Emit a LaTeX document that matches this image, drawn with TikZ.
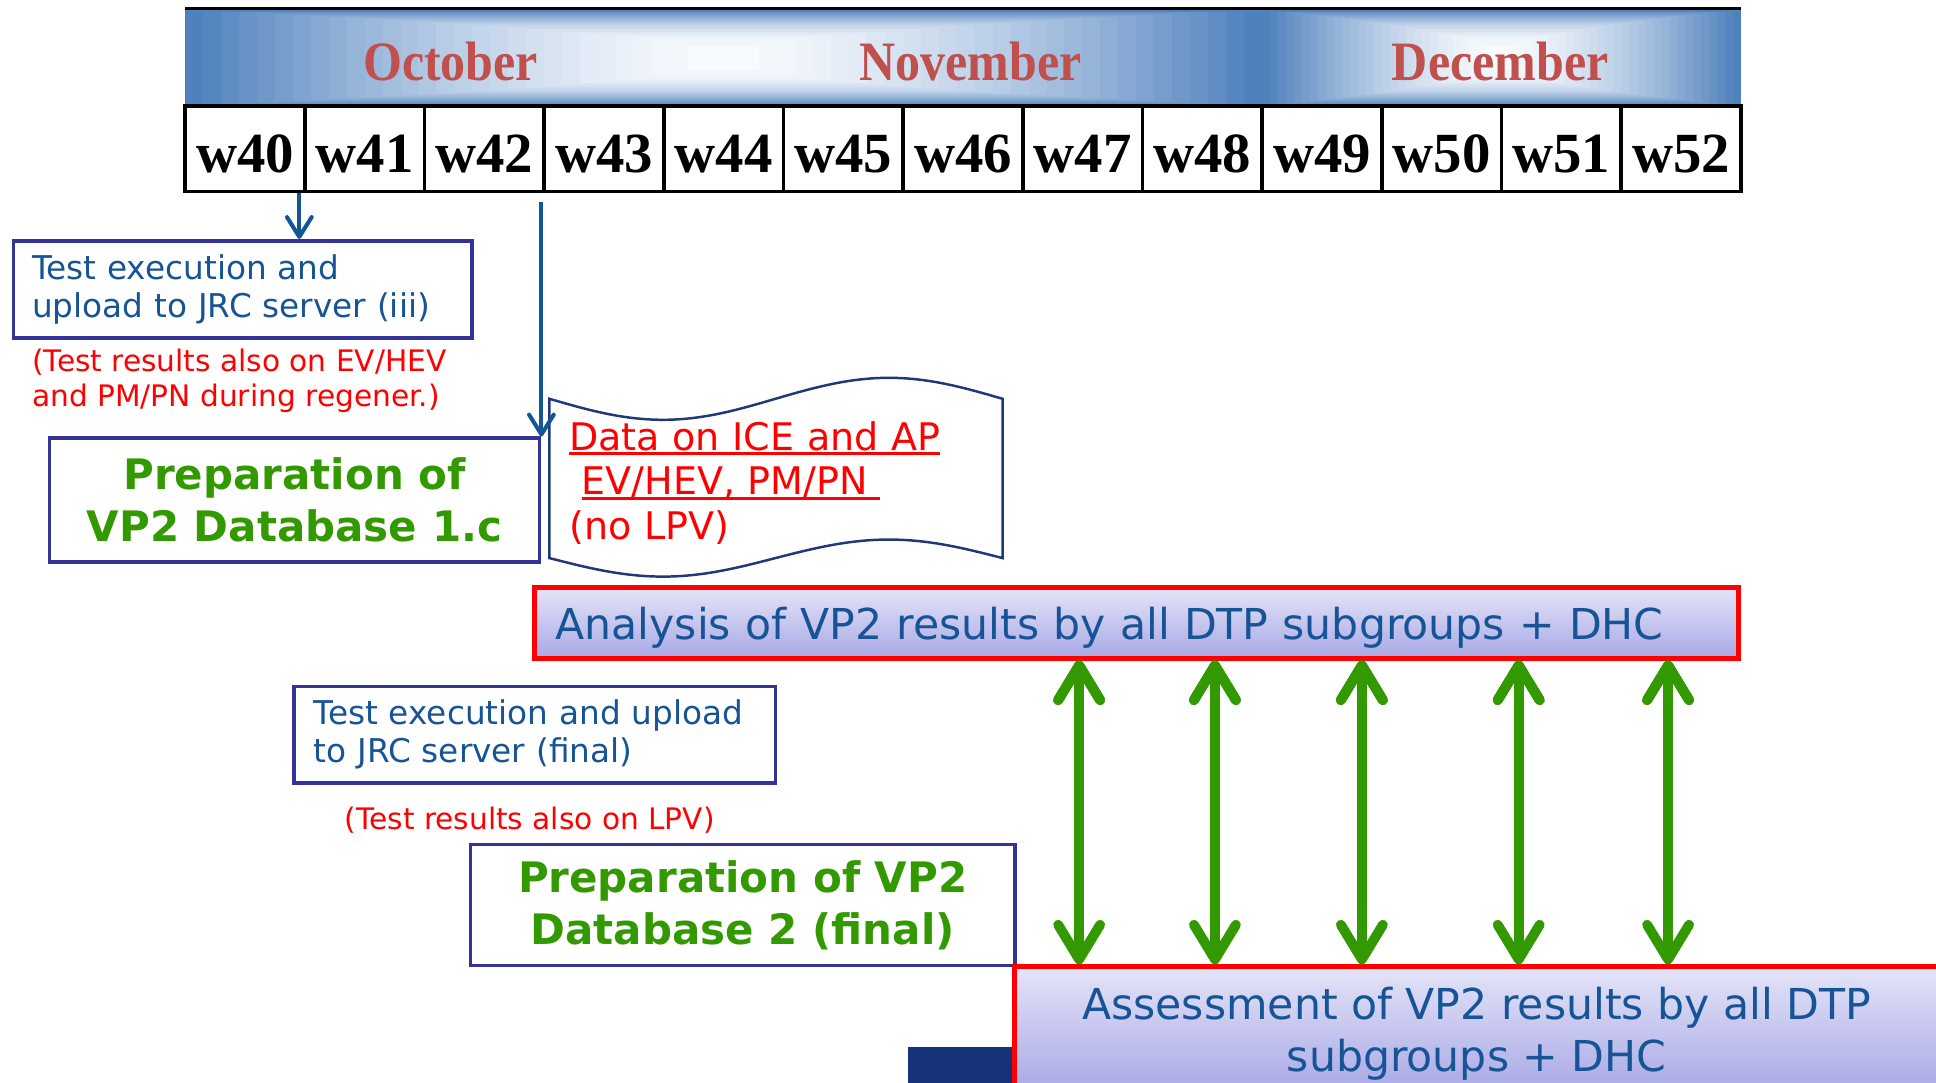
\documentclass[tikz,border=0pt]{standalone}
\usepackage{fontspec}
\setmainfont{DejaVu Sans}
\newfontfamily\hdrfont{Liberation Serif}
\newfontfamily\monthfont[FakeStretch=0.9]{Liberation Serif}
\usetikzlibrary{arrows.meta}
\definecolor{hdrblue}{RGB}{79,129,189}
\definecolor{hdrlight}{RGB}{250,252,255}
\definecolor{monthred}{RGB}{192,80,77}
\definecolor{boxblue}{RGB}{51,51,153}
\definecolor{txtblue}{RGB}{23,84,150}
\definecolor{arrowblue}{RGB}{20,85,150}
\definecolor{notered}{RGB}{255,0,0}
\definecolor{prepgreen}{RGB}{51,153,0}
\definecolor{tapeblue}{RGB}{31,56,120}
\definecolor{barlight}{RGB}{228,228,248}
\definecolor{bardark}{RGB}{168,168,230}
\definecolor{darknavy}{RGB}{22,50,120}
\newcommand{\redul}[1]{\sbox0{#1}\rlap{\rule[-4pt]{\wd0}{2.5pt}}\usebox0}

\begin{document}
\begin{tikzpicture}[x=1pt,y=-1pt]
        \tikzstyle{month}=[font=\monthfont\bfseries\fontsize{45}{50}\selectfont,text=monthred]
        \tikzstyle{week}=[draw=black,line width=3pt,minimum width=96.92pt,minimum height=69pt,inner sep=0pt,text height=39pt,font=\hdrfont\bfseries\fontsize{46}{50}\selectfont]
        \tikzstyle{task}=[draw=boxblue,line width=3pt,inner xsep=15pt,inner ysep=0pt,align=left,text=txtblue,font=\fontsize{26.5}{31}\selectfont]
        \tikzstyle{note}=[text=notered,align=left,inner sep=0pt,font=\fontsize{24}{29}\selectfont]
        \tikzstyle{prep}=[draw=boxblue,line width=3pt,inner ysep=0pt,align=center,text=prepgreen,font=\bfseries\fontsize{34}{42}\selectfont]
        \tikzstyle{resultbar}=[draw=red,line width=4pt,top color=barlight,bottom color=bardark,inner ysep=0pt,text depth=0pt,text=txtblue,font=\fontsize{34.5}{42}\selectfont]
        \tikzstyle{tapetext}=[text=notered,align=left,inner sep=0pt,text width=335pt,font=\fontsize{30.8}{36}\selectfont]
        \tikzstyle{bluearrow}=[draw=arrowblue,line width=3.3pt,-{Straight Barb[round,length=16pt,width=20pt]}]
        \tikzstyle{greenarrow}=[draw=prepgreen,line width=8pt,{Straight Barb[round,length=28pt,width=34pt]}-{Straight Barb[round,length=28pt,width=34pt]}]
        \useasboundingbox (0,0) rectangle (1568,877);
        \clip (0,0) rectangle (1568,877);

        \foreach \cx/\hw in {586/436,1216/194}
          \foreach \k in {0,...,29}{
            \pgfmathsetmacro\fr{1-\k/30}
            \pgfmathtruncatemacro\pct{100*(1-\fr*sqrt(\fr))}
            \pgfmathsetmacro\gv{sqrt(\fr)}
            \fill[hdrlight!\pct!hdrblue] (\cx-\hw*\fr,47-39*\gv) rectangle (\cx+\hw*\fr,47+39*\gv);
          }
        \draw[line width=3pt] (150,7) -- (1410,7);
        \node [month] (oct) at (365,50) {October};
        \node [month] (nov) at (786,50) {November};
        \node [month] (dec) at (1215,50) {December};
        \foreach \w [count=\i from 0] in {40,...,52}
          \node [week] (w\w) at (198.46+96.92*\i,120.5) {w\w};

        \node [task,minimum width=371pt,minimum height=79pt,text width=341pt] (exec1) at (196.5,234.5) {Test execution and\\upload to JRC server (iii)};
        \node [note,anchor=west] (note1) at (26,308.5) {(Test results also on EV/HEV\\and PM/PN during regener.)};
        \node [prep,minimum width=397pt,minimum height=100pt] (prep1) at (238.5,405) {Preparation of\\VP2 Database 1.c};

        \draw[tapeblue,line width=2pt,fill=white] (445,323) sin (537,340) cos (628,323) sin (720,306) cos (812,323)
          -- (812,452) sin (720,437) cos (628,452) sin (537,467) cos (445,452) -- cycle;
        \node [tapetext] (data) at (628.5,391) {\redul{Data on ICE and AP}\\\hspace*{10pt}\redul{EV/HEV, PM/PN\ }\\(no LPV)};

        \node [resultbar,minimum width=975pt,minimum height=57pt,text width=941pt,inner xsep=17pt,align=left] (analysis) at (920.5,504.5) {Analysis of VP2 results by all DTP subgroups + DHC};

        \node [task,minimum width=390pt,minimum height=78pt,text width=358pt,inner xsep=16pt] (exec2) at (433,595) {Test execution and upload\\to JRC server (final)};
        \node [note] (note2) at (429,664) {(Test results also on LPV)};
        \node [prep,minimum width=441pt,minimum height=98pt] (prep2) at (601.5,733) {Preparation of VP2\\Database 2 (final)};

        \fill[darknavy] (735,848) rectangle (822,880);
        \node [resultbar,minimum width=748pt,minimum height=102pt,align=center] (assess) at (1196,834) {Assessment of VP2 results by all DTP\\subgroups + DHC};

        \draw[bluearrow] ([xshift=-6pt]w40.south east) -- ([xshift=-6pt]exec1.north -| w40.south east);
        \draw[bluearrow] ([yshift=-7pt]prep1.north east |- w42.south) -- (prep1.north east);
        \foreach \x in {874,984,1103,1230,1351}
          \path[greenarrow] (analysis.south -| \x,0) edge (assess.north -| \x,0);
\end{tikzpicture}
\end{document}
